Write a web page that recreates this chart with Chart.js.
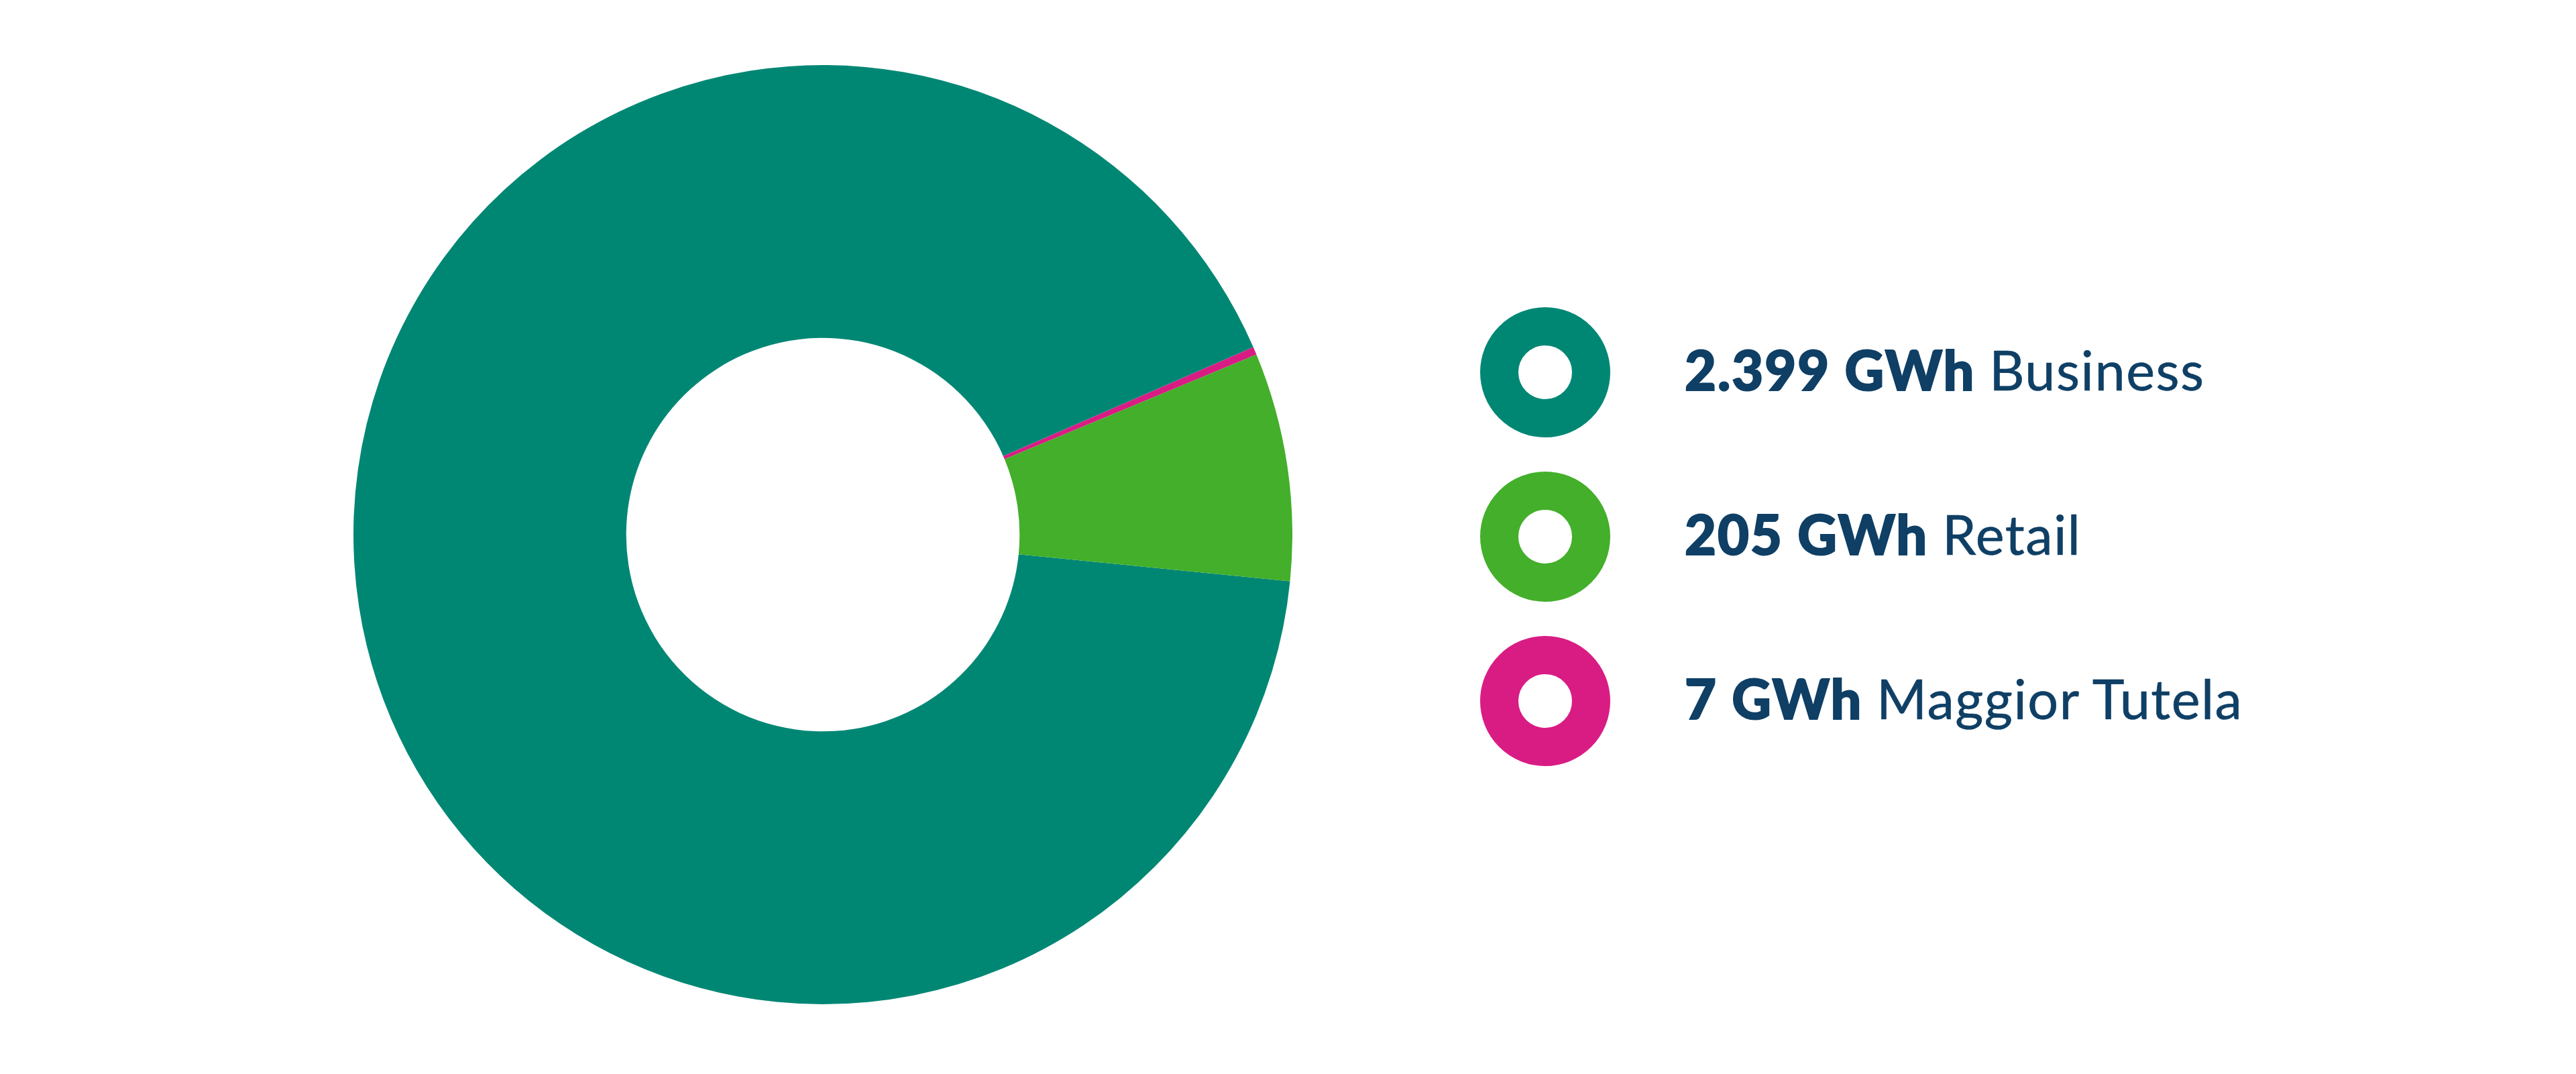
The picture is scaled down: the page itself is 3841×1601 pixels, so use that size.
<!DOCTYPE html>
<html>
<head>
<meta charset="utf-8">
<script src="https://cdn.jsdelivr.net/npm/chart.js@4"></script>
<style>
    html, body {
        margin: 0;
        padding: 0;
        background: #ffffff;
        width: 3841px;
        height: 1601px;
        overflow: hidden;
    }
    #chartBox {
        position: absolute;
        left: 527px;
        top: 97px;
        width: 1400px;
        height: 1400px;
    }
    #legend {
        position: absolute;
        left: 2207px;
        top: 458px;
    }
    .row {
        display: flex;
        align-items: center;
        height: 194px;
        margin-bottom: 51px;
    }
    .ring {
        box-sizing: border-box;
        width: 194px;
        height: 194px;
        border-radius: 50%;
        border: 57px solid #000;
        background: #ffffff;
        flex: none;
    }
    .label {
        position: relative;
        top: -5px;
        margin-left: 111px;
        font-family: Lato, "Noto Sans", sans-serif;
        font-size: 81px;
        color: #0f3f65;
        white-space: nowrap;
        line-height: 1;
    }
    .label b {
        font-weight: 900;
        letter-spacing: 2px;
        -webkit-text-stroke: 2px #0f3f65;
    }
    .label span {
        font-weight: 400;
        letter-spacing: 1.5px;
        -webkit-text-stroke: 0.6px #0f3f65;
    }
</style>
</head>
<body>
<div id="chartBox"><canvas id="energyChart"></canvas></div>
<div id="legend"></div>

<script>
// Data (GWh)
const categories = ['Business', 'Retail', 'Maggior Tutela'];
const values = [2399, 205, 7];
const colors = ['#008774', '#43af2a', '#d91c84'];
const unit = 'GWh';

// clockwise order of the slices in the ring
const drawOrder = [0, 2, 1];

// 2399 -> "2.399"
function formatValue(v) {
    return String(v).replace(/\B(?=(\d{3})+(?!\d))/g, '.');
}

// Build the legend on the right
function buildLegend() {
    const legend = document.getElementById('legend');
    categories.forEach((name, i) => {
        const row = document.createElement('div');
        row.className = 'row';
        const ring = document.createElement('div');
        ring.className = 'ring';
        ring.style.borderColor = colors[i];
        const label = document.createElement('div');
        label.className = 'label';
        label.innerHTML = '<b>' + formatValue(values[i]) + ' ' + unit + '</b> <span>' + name + '</span>';
        row.appendChild(ring);
        row.appendChild(label);
        legend.appendChild(row);
    });
}

// Doughnut chart
function initEnergyChart() {
    const ctx = document.getElementById('energyChart').getContext('2d');
    new Chart(ctx, {
        type: 'doughnut',
        data: {
            labels: drawOrder.map(i => categories[i]),
            datasets: [{
                data: drawOrder.map(i => values[i]),
                backgroundColor: drawOrder.map(i => colors[i]),
                borderWidth: 0,
            }]
        },
        options: {
            responsive: true,
            maintainAspectRatio: false,
            animation: false,
            cutout: '41.9%',
            rotation: 95.7,
            layout: { padding: 0 },
            plugins: {
                legend: { display: false },
                tooltip: { enabled: false }
            }
        }
    });
}

document.addEventListener("DOMContentLoaded", function() {
    buildLegend();
    initEnergyChart();
});
</script>
</body>
</html>
